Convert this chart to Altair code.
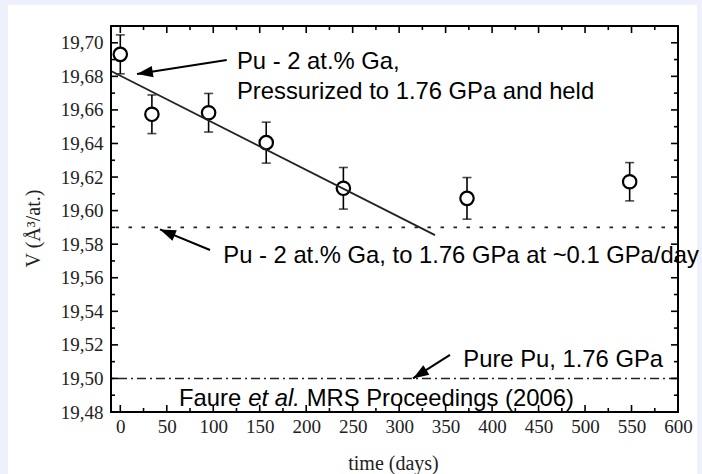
import math
import altair as alt
import pandas as pd

# ---------------- data ----------------
time_days = [0, 34, 95, 157, 240, 373, 548]
volume = [19.6931, 19.6574, 19.6583, 19.6405, 19.6133, 19.6073, 19.6172]
vol_err = [0.0116, 0.0115, 0.0115, 0.0122, 0.0124, 0.0124, 0.0114]

fit_t = [-10, 338.6]
fit_v = [19.6832, 19.5854]

ref_slow = [19.59]   # Pu-2Ga, slow pressurization
ref_pure = [19.50]   # pure Pu

x_major = [0, 50, 100, 150, 200, 250, 300, 350, 400, 450, 500, 550, 600]
x_minor = [25, 75, 125, 175, 225, 275, 325, 375, 425, 475, 525, 575]
y_major = [19.48, 19.50, 19.52, 19.54, 19.56, 19.58, 19.60, 19.62, 19.64, 19.66, 19.68, 19.70]
y_minor = [19.49, 19.51, 19.53, 19.55, 19.57, 19.59, 19.61, 19.63, 19.65, 19.67, 19.69]

arrow_t_tail = [114.5, 96.5, 354.7]
arrow_v_tail = [19.6897, 19.5765, 19.5140]
arrow_t_head = [18.0, 42.7, 314.9]
arrow_v_head = [19.6814, 19.5888, 19.5000]

note_text = ["Pu - 2 at.% Ga,", "Pressurized to 1.76 GPa and held",
             "Pu - 2 at.% Ga, to 1.76 GPa at ~0.1 GPa/day", "Pure Pu, 1.76 GPa",
             "Faure", "MRS Proceedings (2006)"]
note_t = [125.5, 125.5, 110.8, 369.0, 63.2, 200.5]
note_v = [19.6844, 19.6665, 19.5688, 19.5068, 19.4835, 19.4835]
italic_text = ["et al."]
italic_t = [137.7]
italic_v = [19.4835]

# ---------------- layout ----------------
W, H = 567, 386
X_DOM = [-10, 600]
Y_DOM = [19.48, 19.71]
kx = W / (X_DOM[1] - X_DOM[0])
ky = H / (Y_DOM[1] - Y_DOM[0])

xs = alt.Scale(domain=X_DOM, nice=False, zero=False)
ys = alt.Scale(domain=Y_DOM, nice=False, zero=False)

SERIF = "Liberation Serif"
SANS = "Liberation Sans"

x_axis = alt.Axis(values=x_major, ticks=False, domain=False, grid=False, zindex=2,
                  labelFlush=False, labelOverlap=False,
                  labelFont=SERIF, labelFontSize=19, labelColor="#222",
                  labelPadding=5, title="time (days)", titleFont=SERIF,
                  titleFontSize=20, titleFontWeight="normal", titleColor="#222",
                  titleX=282, titleY=51, titleBaseline="middle", titleAlign="center")
y_axis = alt.Axis(values=y_major, ticks=False, domain=False, grid=False, zindex=2,
                  labelFlush=False, labelOverlap=False,
                  labelFont=SERIF, labelFontSize=19, labelColor="#222",
                  labelPadding=8,
                  labelExpr="replace(format(datum.value, '.2f'), '.', ',')",
                  title="V (Å³/at.)", titleFont=SERIF, titleFontSize=20,
                  titleFontWeight="normal", titleColor="#222",
                  titleX=-78, titleY=202, titleAngle=270,
                  titleBaseline="middle", titleAlign="center")

def X(field, **kw):
    return alt.X(field, type="quantitative", scale=xs, axis=x_axis, **kw)

def Y(field, **kw):
    return alt.Y(field, type="quantitative", scale=ys, axis=y_axis, **kw)

one = pd.DataFrame({"a": [0]})

# white panel on lavender page
panel = alt.Chart(one).mark_rect(fill="white", stroke=None).encode(
    x=alt.value(-103), x2=alt.value(586), y=alt.value(-21), y2=alt.value(H + 62)
)

pts = pd.DataFrame({"t": time_days, "v": volume, "e": vol_err})
pts["lo"] = pts["v"] - pts["e"]
pts["hi"] = pts["v"] + pts["e"]

err_rule = alt.Chart(pts).mark_rule(color="black", strokeWidth=1.6).encode(
    x=X("t"), y=Y("lo"), y2="hi")
cap_lo = alt.Chart(pts).mark_tick(orient="horizontal", color="black",
                                  thickness=1.6, size=9).encode(x=X("t"), y=Y("lo"))
cap_hi = alt.Chart(pts).mark_tick(orient="horizontal", color="black",
                                  thickness=1.6, size=9).encode(x=X("t"), y=Y("hi"))
circles = alt.Chart(pts).mark_point(shape="circle", filled=False, fill="white",
                                    fillOpacity=1, stroke="black", strokeWidth=2.2,
                                    size=180, opacity=1).encode(x=X("t"), y=Y("v"))

fit = alt.Chart(pd.DataFrame({"t": fit_t, "v": fit_v})).mark_line(
    color="#222", strokeWidth=1.8).encode(x=X("t"), y=Y("v"))

slow = alt.Chart(pd.DataFrame({"v": ref_slow})).mark_rule(
    color="#222", strokeWidth=1.6, strokeDash=[3.5, 9.5]).encode(y=Y("v"))
pure = alt.Chart(pd.DataFrame({"v": ref_pure})).mark_rule(
    color="#222", strokeWidth=1.6, strokeDash=[9, 4, 2, 4]).encode(y=Y("v"))

# arrows
ang = []
for t0, v0, t1, v1 in zip(arrow_t_tail, arrow_v_tail, arrow_t_head, arrow_v_head):
    dx = (t1 - t0) * kx
    dy = -(v1 - v0) * ky
    ang.append(math.degrees(math.atan2(dx, -dy)) % 360)
arr = pd.DataFrame({"t0": arrow_t_tail, "v0": arrow_v_tail,
                    "t1": arrow_t_head, "v1": arrow_v_head, "ang": ang})
arrow_lines = alt.Chart(arr).mark_rule(color="black", strokeWidth=2).encode(
    x=X("t0"), x2="t1", y=Y("v0"), y2="v1")
arrow_heads = alt.Chart(arr).mark_point(
    shape="M0,0L0.36,1L-0.36,1Z", filled=True, color="black", size=1000, opacity=1
).encode(x=X("t1"), y=Y("v1"), angle=alt.Angle("ang:Q", scale=None))

notes = alt.Chart(pd.DataFrame({"t": note_t, "v": note_v, "s": note_text})).mark_text(
    font=SANS, fontSize=23.8, color="black", align="left", baseline="alphabetic"
).encode(x=X("t"), y=Y("v"), text="s:N")
notes_it = alt.Chart(pd.DataFrame({"t": italic_t, "v": italic_v, "s": italic_text})).mark_text(
    font=SANS, fontSize=23.8, fontStyle="italic", color="black", align="left",
    baseline="alphabetic"
).encode(x=X("t"), y=Y("v"), text="s:N")

# inward ticks on all four sides
def xticks(vals, length):
    d = pd.DataFrame({"t": vals})
    bottom = alt.Chart(d).mark_rule(color="black", strokeWidth=1.6).encode(
        x=X("t"), y=alt.value(H), y2=alt.value(H - length))
    top = alt.Chart(d).mark_rule(color="black", strokeWidth=1.6).encode(
        x=X("t"), y=alt.value(0), y2=alt.value(length))
    return [bottom, top]

def yticks(vals, length):
    d = pd.DataFrame({"v": vals})
    left = alt.Chart(d).mark_rule(color="black", strokeWidth=1.6).encode(
        y=Y("v"), x=alt.value(0), x2=alt.value(length))
    right = alt.Chart(d).mark_rule(color="black", strokeWidth=1.6).encode(
        y=Y("v"), x=alt.value(W), x2=alt.value(W - length))
    return [left, right]

tick_layers = xticks(x_major, 7) + xticks(x_minor, 4) + yticks(y_major, 7) + yticks(y_minor, 4)

frame = alt.Chart(one).mark_rect(fill=None, stroke="black", strokeWidth=2).encode(
    x=alt.value(0), x2=alt.value(W), y=alt.value(0), y2=alt.value(H))

chart = alt.layer(
    panel, slow, pure, err_rule, cap_lo, cap_hi, circles, fit,
    arrow_lines, arrow_heads, notes, notes_it, *tick_layers, frame
).properties(
    width=W, height=H,
    autosize=alt.AutoSizeParams(type="none"),
    padding={"left": 111, "top": 26, "right": 24, "bottom": 62},
    background="#EEF0FB",
).configure_view(stroke=None)

chart.save("out.html", embed_options={"renderer": "svg", "actions": False})
